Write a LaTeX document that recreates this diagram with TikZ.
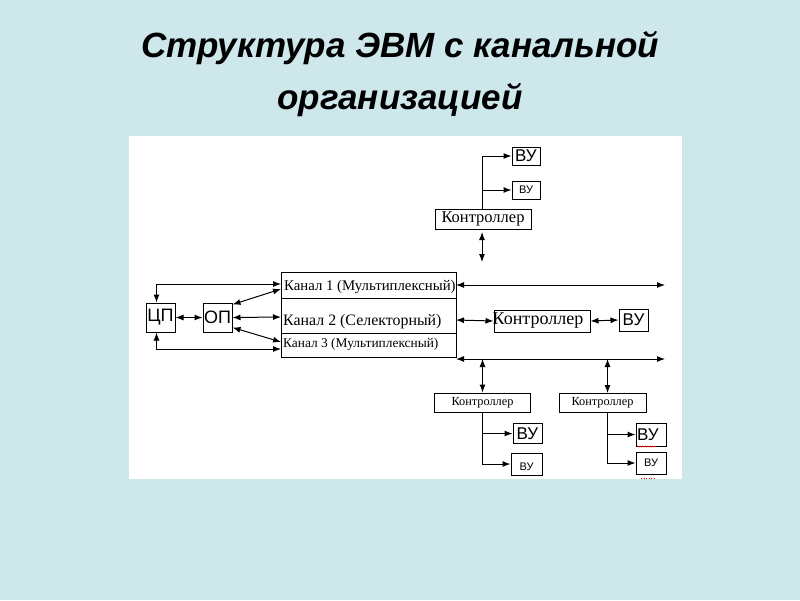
\documentclass[tikz,border=0pt]{standalone}
\usepackage{fontspec}
\setmainfont{Liberation Serif}
\setsansfont{Liberation Sans}
\usetikzlibrary{arrows.meta,decorations.pathmorphing}
\definecolor{bgblue}{RGB}{205,231,235}
\tikzset{
  ah/.tip={Latex[length=8pt,width=6pt]},
  dbl/.style={ah-ah, line width=1pt},
  one/.style={-ah, line width=1pt},
  box/.style={draw, line width=1pt, inner sep=0pt, fill=white},
  vubig/.style={box, font=\sffamily\fontsize{17}{17}\selectfont},
  vusmall/.style={box, font=\sffamily\fontsize{11}{11}\selectfont},
  ctrl/.style={box, font=\fontsize{16.5}{16.5}\selectfont},
  ctrlsmall/.style={box, font=\fontsize{12.3}{12.3}\selectfont},
  lbl/.style={anchor=west, inner sep=0pt},
  title/.style={font=\sffamily\bfseries\itshape\fontsize{35}{35}\selectfont}
}
\begin{document}
\begin{tikzpicture}[x=1pt,y=-1pt]
\useasboundingbox (0,0) rectangle (800,600);
\fill[bgblue] (0,0) rectangle (800,600);
\fill[white] (129,136) rectangle (682,479);

% title
\node[title] (t1) at (400,48) {Структура ЭВМ с канальной};
\node[title] (t2) at (400,100) {организацией};

% CPU and memory
\node[box, minimum width=29, minimum height=29, font=\sffamily\fontsize{18}{18}\selectfont] (cp) at (160.5,317.5) {ЦП};
\node[box, minimum width=29, minimum height=29, font=\sffamily\fontsize{18}{18}\selectfont] (op) at (217.5,317.5) {ОП};

% channel block
\node[box, minimum width=175, minimum height=85] (ch) at (368.5,314.5) {};
\draw[line width=1pt] (281,298) -- (456,298);
\draw[line width=1pt] (281,333) -- (456,333);
\node[lbl, font=\fontsize{14.8}{14.8}\selectfont] (k1) at (284,287) {Канал 1 (Мультиплексный)};
\node[lbl, font=\fontsize{15.9}{15.9}\selectfont] (k2) at (283,322) {Канал 2 (Селекторный)};
\node[lbl, font=\fontsize{13.4}{13.4}\selectfont] (k3) at (283,344) {Канал 3 (Мультиплексный)};

% left coordinates
\coordinate (k1in) at (281,284);
\coordinate (k1op) at (281,289);
\coordinate (k2op) at (281,317);
\coordinate (k3op) at (281,342);
\coordinate (k3in) at (281,349);

\draw[dbl] (cp) -- (op);
\draw[dbl] ([xshift=-4pt]cp.north) |- (k1in);
\draw[dbl] ([xshift=-4pt]cp.south) |- (k3in);
\draw[dbl] ([yshift=-2pt]op.north east) -- (k1op);
\draw[dbl] (op.east) -- (k2op);
\draw[dbl] ([yshift=5pt]op.south east) -- (k3op);

% top controller group
\node[ctrl, minimum width=96, minimum height=20] (ctrlT) at (483,219) {Контроллер};
\node[vubig, minimum width=28, minimum height=18] (vuT1) at (526,156) {ВУ};
\node[vusmall, minimum width=28, minimum height=18] (vuT2) at (526,190) {ВУ};
\coordinate (tb) at (482,209);
\draw[one] (tb) |- (vuT1.west);
\draw[one] (tb |- vuT2.west) -- (vuT2.west);
\coordinate (ta1) at (482,232);
\coordinate (ta2) at (482,262);
\draw[dbl] (ta1) -- (ta2);

% buses
\coordinate (b1w) at (456,285);
\coordinate (b1e) at (665,285);
\draw[dbl] (b1w) -- (b1e);
\coordinate (b2w) at (456,359);
\coordinate (b2e) at (665,359);
\draw[dbl] (b2w) -- (b2e);

% middle controller
\node[ctrl, font=\fontsize{18}{18}\selectfont, minimum width=96, minimum height=22] (ctrlM) at (542,321) {\hspace*{-8pt}Контроллер};
\node[vubig, minimum width=29, minimum height=22] (vuM) at (633.5,320) {ВУ};
\coordinate (k2out) at (456,320);
\draw[dbl] (k2out) -- (ctrlM.west);
\draw[dbl] (ctrlM.east) -- (vuM.west);

% bottom left controller
\node[ctrlsmall, minimum width=96, minimum height=19] (ctrlB1) at (482.5,402.5) {Контроллер};
\node[vubig, minimum width=29, minimum height=20] (vuB1a) at (527.5,433.5) {ВУ};
\node[vusmall, minimum width=31, minimum height=22, text depth=0pt] (vuB1b) at (526.5,464) {\raisebox{-6pt}{ВУ}};
\draw[dbl] (ctrlB1.north |- b2w) -- (ctrlB1.north);
\draw[one] (ctrlB1.south) |- (vuB1b.west);
\draw[one] (ctrlB1.south |- vuB1a.west) -- (vuB1a.west);

% bottom right controller
\node[ctrlsmall, minimum width=87, minimum height=19] (ctrlB2) at (602.5,402.5) {Контроллер};
\node[vubig, minimum width=30, minimum height=23] (vuB2a) at (651,434.5) {\hspace*{-6pt}ВУ};
\node[vusmall, minimum width=30, minimum height=22] (vuB2b) at (651,463) {\raisebox{-6pt}{ВУ}};
\coordinate (rv) at (607.5,412);
\coordinate (rvt) at (607.5,359);
\coordinate (rvb) at (607.5,393);
\draw[dbl] (rvt) -- (rvb);
\draw[one] (rv) |- (vuB2b.west);
\draw[one] (rv |- vuB2a.west) -- (vuB2a.west);
\draw[red, line width=0.5pt, decorate, decoration={snake, amplitude=0.6pt, segment length=2.5pt}] (637,446.5) -- (656,446.5);
\draw[red, line width=0.6pt, dotted] (641,478) -- (655,478);
\end{tikzpicture}
\end{document}
